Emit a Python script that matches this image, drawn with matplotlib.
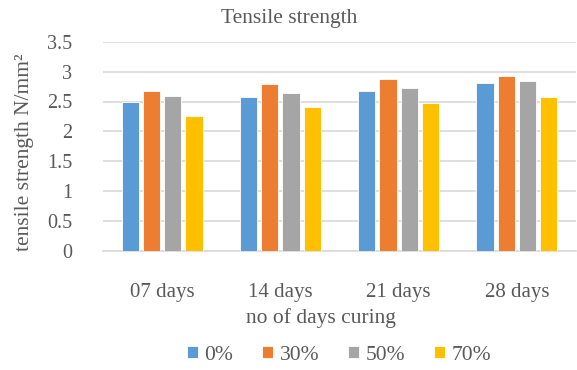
import numpy as np
import matplotlib
matplotlib.use("Agg")
import matplotlib.pyplot as plt
from matplotlib.font_manager import FontProperties

categories = ["07 days", "14 days", "21 days", "28 days"]
series_names = ["0%", "30%", "50%", "70%"]
values_0 = [2.50, 2.57, 2.67, 2.81]
values_30 = [2.67, 2.79, 2.88, 2.93]
values_50 = [2.60, 2.65, 2.72, 2.84]
values_70 = [2.25, 2.40, 2.47, 2.57]
y_ticks = [0, 0.5, 1, 1.5, 2, 2.5, 3, 3.5]
y_tick_labels = ["0", "0.5", "1", "1.5", "2", "2.5", "3", "3.5"]

colors = ["#5B9BD5", "#ED7D31", "#A5A5A5", "#FFC000"]
text_color = "#595959"
grid_color = "#D9D9D9"
serif = ["Liberation Serif", "DejaVu Serif"]

plt.rcParams["font.family"] = serif

fig = plt.figure(figsize=(5.77, 3.70), dpi=100)
ax = fig.add_axes([103 / 577, 1 - 251 / 370, (576 - 103) / 577, (251 - 41.7) / 370])

x = np.arange(len(categories))
pitch = 0.18
bar_w = 0.145
all_series = [values_0, values_30, values_50, values_70]
for i, (vals, name, col) in enumerate(zip(all_series, series_names, colors)):
    ax.bar(x + (i - 1.5) * pitch, vals, width=bar_w, color=col, label=name,
           zorder=3, edgecolor="white", linewidth=0.6)

ax.set_xlim(-0.5, len(categories) - 0.5)
ax.set_ylim(0, 3.5)
ax.set_yticks(y_ticks)
ax.set_yticklabels(y_tick_labels)
ax.set_xticks(x)
ax.set_xticklabels(categories)
ax.yaxis.grid(True, color=grid_color, linewidth=1.2, zorder=0)
ax.set_axisbelow(True)
for s in ["top", "right", "left"]:
    ax.spines[s].set_visible(False)
ax.spines["bottom"].set_color(grid_color)
ax.spines["bottom"].set_linewidth(1.2)
ax.tick_params(axis="x", length=0, colors=text_color, labelsize=15, pad=23)
ax.tick_params(axis="y", length=0, colors=text_color, labelsize=14.5, pad=22)

fig.text(289.5 / 577, 1 - 18 / 370, "Tensile strength", ha="center", va="center",
         fontsize=15.5, color=text_color)
fig.text(321 / 577, 1 - 318 / 370, "no of days curing", ha="center", va="center",
         fontsize=15.5, color=text_color)
fig.text(25 / 577, 1 - 152 / 370, "tensile strength N/mm²", ha="center", va="center",
         rotation=90, fontsize=15.5, color=text_color)

leg = fig.legend(loc="center", bbox_to_anchor=(339 / 577, 1 - 355 / 370), ncol=4,
                 frameon=False, prop=FontProperties(family="Liberation Serif", size=15.5),
                 handlelength=0.5, handleheight=0.5,
                 handletextpad=0.3, columnspacing=1.35, labelcolor=text_color)
for t in leg.get_texts():
    t.set_fontfamily("Liberation Serif")

fig.savefig("out.png", dpi=100)
